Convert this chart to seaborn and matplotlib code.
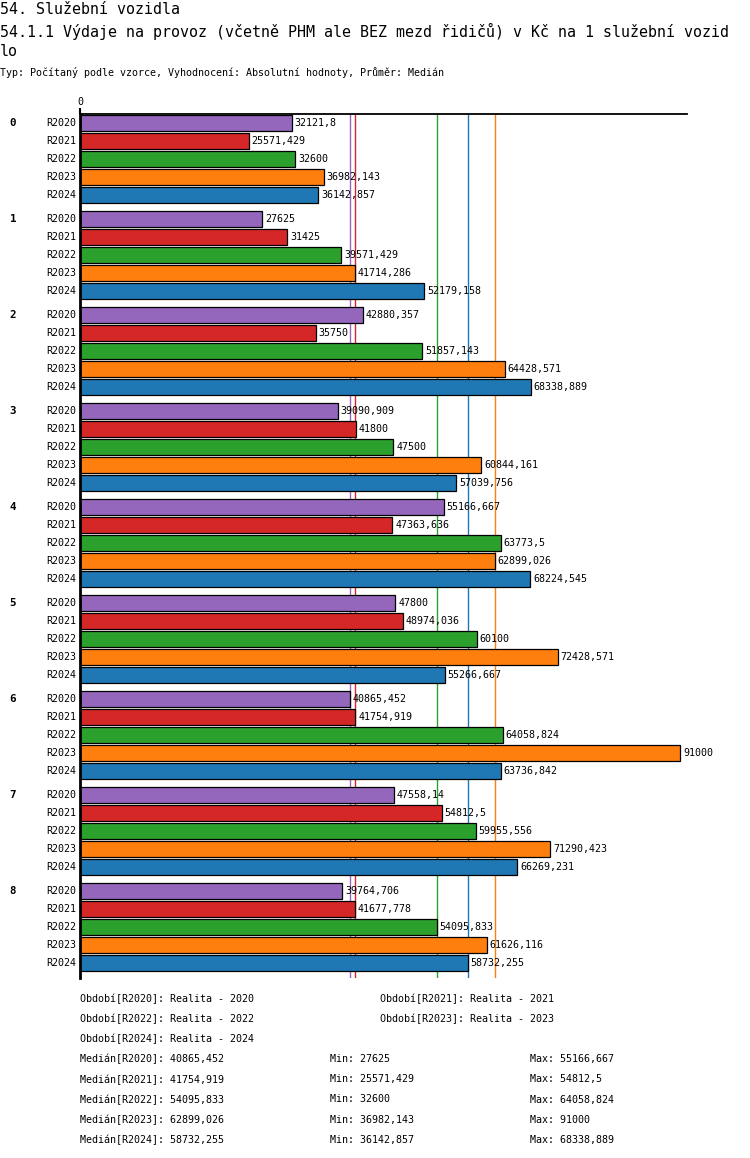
import numpy as np
import pandas as pd
import matplotlib
matplotlib.use("Agg")
import matplotlib.pyplot as plt
import seaborn as sns

# Data
groups = ["0", "1", "2", "3", "4", "5", "6", "7", "8"]
series = ["R2020", "R2021", "R2022", "R2023", "R2024"]
r2020 = [32121.8, 27625, 42880.357, 39090.909, 55166.667, 47800, 40865.452, 47558.14, 39764.706]
r2021 = [25571.429, 31425, 35750, 41800, 47363.636, 48974.036, 41754.919, 54812.5, 41677.778]
r2022 = [32600, 39571.429, 51857.143, 47500, 63773.5, 60100, 64058.824, 59955.556, 54095.833]
r2023 = [36982.143, 41714.286, 64428.571, 60844.161, 62899.026, 72428.571, 91000, 71290.423, 61626.116]
r2024 = [36142.857, 52179.158, 68338.889, 57039.756, 68224.545, 55266.667, 63736.842, 66269.231, 58732.255]
colors = {"R2020": "#9467bd", "R2021": "#d62728", "R2022": "#2ca02c",
          "R2023": "#ff7f0e", "R2024": "#1f77b4"}
periods = ["Realita - 2020", "Realita - 2021", "Realita - 2022", "Realita - 2023", "Realita - 2024"]

title1 = "54. Služební vozidla"
title2 = "54.1.1 Výdaje na provoz (včetně PHM ale BEZ mezd řidičů) v Kč na 1 služební vozid"
title3 = "lo"
subtitle = "Typ: Počítaný podle vzorce, Vyhodnocení: Absolutní hodnoty, Průměr: Medián"

values = {"R2020": r2020, "R2021": r2021, "R2022": r2022, "R2023": r2023, "R2024": r2024}
df = pd.DataFrame([(g, s, v) for s in series for g, v in zip(groups, values[s])],
                  columns=["skupina", "obdobi", "hodnota"])


def cz(v):
    s = f"{v:.3f}".rstrip("0").rstrip(".")
    return s.replace(".", ",")


sns.set_style("white")
plt.rcParams["font.family"] = ["DejaVu Sans Mono", "DejaVu Sans"]
plt.rcParams["text.color"] = "black"
plt.rcParams["xtick.color"] = "black"
plt.rcParams["xtick.labelcolor"] = "black"
W, H = 750, 1158
fig = plt.figure(figsize=(W / 100, H / 100), dpi=100)
ax = fig.add_axes([80 / W, 1 - 978 / H, 607 / W, (978 - 114) / H])

sns.barplot(data=df, x="hodnota", y="skupina", hue="obdobi", orient="h",
            order=groups, hue_order=series, palette=colors, width=0.9375,
            gap=0.111, edgecolor="black", linewidth=0.9, errorbar=None,
            legend=False, saturation=1, ax=ax)

# median lines behind the bars
for s in series:
    ax.axvline(np.median(values[s]), color=colors[s], lw=1, zorder=0.5)

ax.set_xlim(0, 92000)
ax.set_ylim(8.53125, -0.46875)
ax.xaxis.tick_top()
ax.set_xticks([0])
ax.set_xticklabels(["0"])
ax.tick_params(axis="x", length=4.3, width=1.5, pad=1, labelsize=7.2, direction="out")
ax.set_yticks([])
ax.set_xlabel("")
ax.set_ylabel("")
for side in ["right", "bottom"]:
    ax.spines[side].set_visible(False)
ax.spines["top"].set_linewidth(1.3)
ax.spines["left"].set_linewidth(2)
for side in ["top", "left"]:
    ax.spines[side].set_color("black")

small = 7.2
for i, cont in enumerate(ax.containers):
    ax.bar_label(cont, labels=[cz(b.get_width()) for b in cont], padding=2,
                 fontsize=small, color="black")
    for b in cont:
        yc = b.get_y() + b.get_height() / 2
        ax.annotate(series[i], (0, yc), xytext=(-4, 0), textcoords="offset pixels",
                    ha="right", va="center", fontsize=small)
        if i == 0:
            ax.annotate(groups[int(round(yc + 0.375))], (13, yc),
                        xycoords=("figure pixels", "data"), ha="center", va="center",
                        fontsize=7.8, fontweight="bold")


def ftext(x, y, s, **kw):
    fig.text(x / W, 1 - y / H, s, va="center", **kw)


ftext(0, 10, title1, fontsize=10.8)
ftext(0, 31, title2, fontsize=10.8)
ftext(0, 52, title3, fontsize=10.8)
ftext(0, 73, subtitle, fontsize=small)

y0, dy = 999, 20.1
for k, (s, p) in enumerate(zip(series, periods)):
    ftext(80 if k % 2 == 0 else 380, y0 + dy * (k // 2), f"Období[{s}]: {p}", fontsize=small)
for k, s in enumerate(series):
    yy = y0 + dy * (3 + k)
    ftext(80, yy, f"Medián[{s}]: {cz(np.median(values[s]))}", fontsize=small)
    ftext(330, yy, f"Min: {cz(min(values[s]))}", fontsize=small)
    ftext(530, yy, f"Max: {cz(max(values[s]))}", fontsize=small)

fig.savefig("out.png", dpi=100, facecolor="white")
